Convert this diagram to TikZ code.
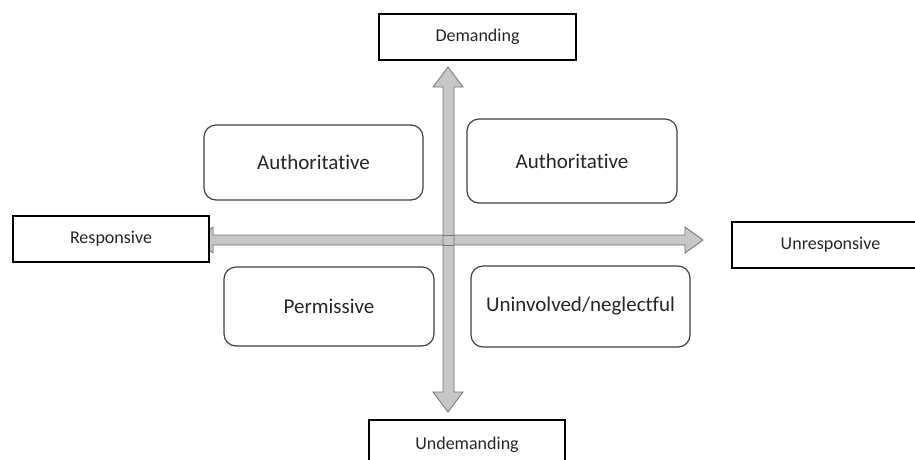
\documentclass[tikz,border=0pt]{standalone}
\usepackage{fontspec}
\setmainfont[Ligatures=NoCommon]{Carlito}
\begin{document}
\begin{tikzpicture}[x=1pt,y=-1pt,
  lab/.style={draw=black,line width=1.8pt,fill=white,inner sep=0pt,font=\fontsize{18}{21}\selectfont,text=black!85},
  quad/.style={draw=black!75,line width=1.2pt,rounded corners=12pt,fill=white,inner sep=0pt,font=\fontsize{21}{25}\selectfont,text=black!85},
  arr/.style={fill=black!22,draw=black!55,line width=0.8pt,line join=miter}]
\useasboundingbox (0,0) rectangle (915,459);
% arrows
\path[arr] (195,240) -- (213,227) -- (213,235) -- (685,235) -- (685,227) -- (703,240) -- (685,253) -- (685,245) -- (213,245) -- (213,253) -- cycle;
\path[arr] (448,67) -- (463,87) -- (454,87) -- (454,392) -- (463,392) -- (448,412) -- (433,392) -- (443,392) -- (443,87) -- (433,87) -- cycle;
\draw[black!55,line width=0.8pt] (443,235) -- (454,235) (443,245) -- (454,245);
% label boxes
\node[lab,minimum width=197pt,minimum height=46pt] (dem) at (477.5,37) {Demanding};
\node[lab,minimum width=196pt,minimum height=46pt] (resp) at (111,239) {Responsive};
\node[lab,minimum width=197pt,minimum height=46pt] (unresp) at (830.5,245) {Unresponsive};
\node[lab,minimum width=196pt,minimum height=50pt] (undem) at (467,445) {Undemanding};
% quadrant boxes
\node[quad,minimum width=219pt,minimum height=75pt] (auth1) at (313.5,162.5) {Authoritative};
\node[quad,minimum width=210pt,minimum height=84pt] (auth2) at (572,161) {Authoritative};
\node[quad,minimum width=210pt,minimum height=79pt] (perm) at (329,306.5) {Permissive};
\node[quad,minimum width=219pt,minimum height=81pt] (unin) at (580.5,306.5) {Uninvolved/neglectful};
\end{tikzpicture}
\end{document}
